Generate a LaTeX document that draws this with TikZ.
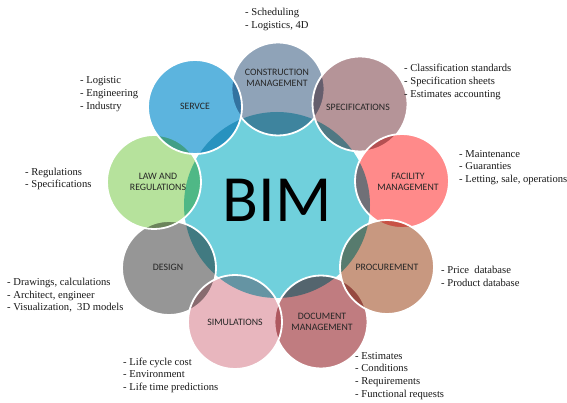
\documentclass[tikz,border=0pt]{standalone}
\usepackage{fontspec}
\setmainfont{Liberation Serif}
\newfontfamily\lblfont{Carlito}
\definecolor{cCyan}{RGB}{112,208,220}
\definecolor{cCons}{RGB}{143,163,184}
\definecolor{cServ}{RGB}{92,180,222}
\definecolor{cSpec}{RGB}{181,148,152}
\definecolor{cFac}{RGB}{255,138,138}
\definecolor{cProc}{RGB}{200,152,128}
\definecolor{cDoc}{RGB}{192,124,128}
\definecolor{cSim}{RGB}{232,182,190}
\definecolor{cDes}{RGB}{150,150,150}
\definecolor{cLaw}{RGB}{182,226,156}
\newcommand\mypetal[3]{%
  \begin{scope}[blend mode=multiply]\fill[#3] #1 circle (#2);\end{scope}
  \draw[rim] #1 circle (#2);}
\begin{document}
\begin{tikzpicture}[x=1pt,y=-1pt,
  rim/.style={draw=white, line width=1.8pt},
  lbl/.style={font=\lblfont\fontsize{9.8}{10.5}\selectfont, align=center, text=black!85, inner sep=0},
  lst/.style={font=\fontsize{10.6}{12.7}\selectfont, align=left, anchor=north west, inner sep=0, text=black!90}]
\useasboundingbox (0,0) rectangle (567,403);
\fill[white] (0,0) rectangle (567,403);
% central disc
\fill[cCyan] (277,205) circle (93);
% petals
\mypetal{(278,89)}{46.5}{cCons}
\mypetal{(360,104)}{47.5}{cSpec}
\mypetal{(402,181)}{47}{cFac}
\mypetal{(321,322)}{46.5}{cDoc}
\mypetal{(387,267)}{47}{cProc}
\mypetal{(169,268)}{47}{cDes}
\mypetal{(235,322)}{47}{cSim}
\mypetal{(154,182)}{47}{cLaw}
\mypetal{(195,107)}{47}{cServ}
% labels
\node[font=\lblfont\fontsize{66}{66}\selectfont, inner sep=0] (bim) at (277,200) {BIM};
\node[lbl] (lcm) at (277,78) {CONSTRUCTION\\MANAGEMENT};
\node[lbl] (lsv) at (195,106) {SERVCE};
\node[lbl] (lsp) at (358,107) {SPECIFICATIONS};
\node[lbl] (lfm) at (408,182) {FACILITY\\MANAGEMENT};
\node[lbl] (lpr) at (387,267) {PROCUREMENT};
\node[lbl] (ldm) at (322,322) {DOCUMENT\\MANAGEMENT};
\node[lbl] (lsi) at (235,322) {SIMULATIONS};
\node[lbl] (lde) at (168,267) {DESIGN};
\node[lbl] (llr) at (158,182) {LAW AND\\REGULATIONS};
% lists
\node[lst] (tcm) at (245,8) {- Scheduling\\- Logistics, 4D};
\node[lst] (tsp) at (404,64) {- Classification standards\\- Specification sheets\\- Estimates accounting};
\node[lst] (tfm) at (459,150) {- Maintenance\\- Guaranties\\- Letting, sale, operations};
\node[lst] (tpr) at (441,266) {- Price\ \ database\\- Product database};
\node[lst] (tdm) at (355,352) {- Estimates\\- Conditions\\- Requirements\\- Functional requests};
\node[lst] (tsi) at (123,357.5) {- Life cycle cost\\- Environment\\- Life time predictions};
\node[lst] (tde) at (7,278) {- Drawings, calculations\\- Architect, engineer\\- Visualization,\ \ 3D models};
\node[lst] (tlr) at (25,167.5) {- Regulations\\- Specifications};
\node[lst] (tsv) at (80,76.5) {- Logistic\\- Engineering\\- Industry};
\end{tikzpicture}
\end{document}
